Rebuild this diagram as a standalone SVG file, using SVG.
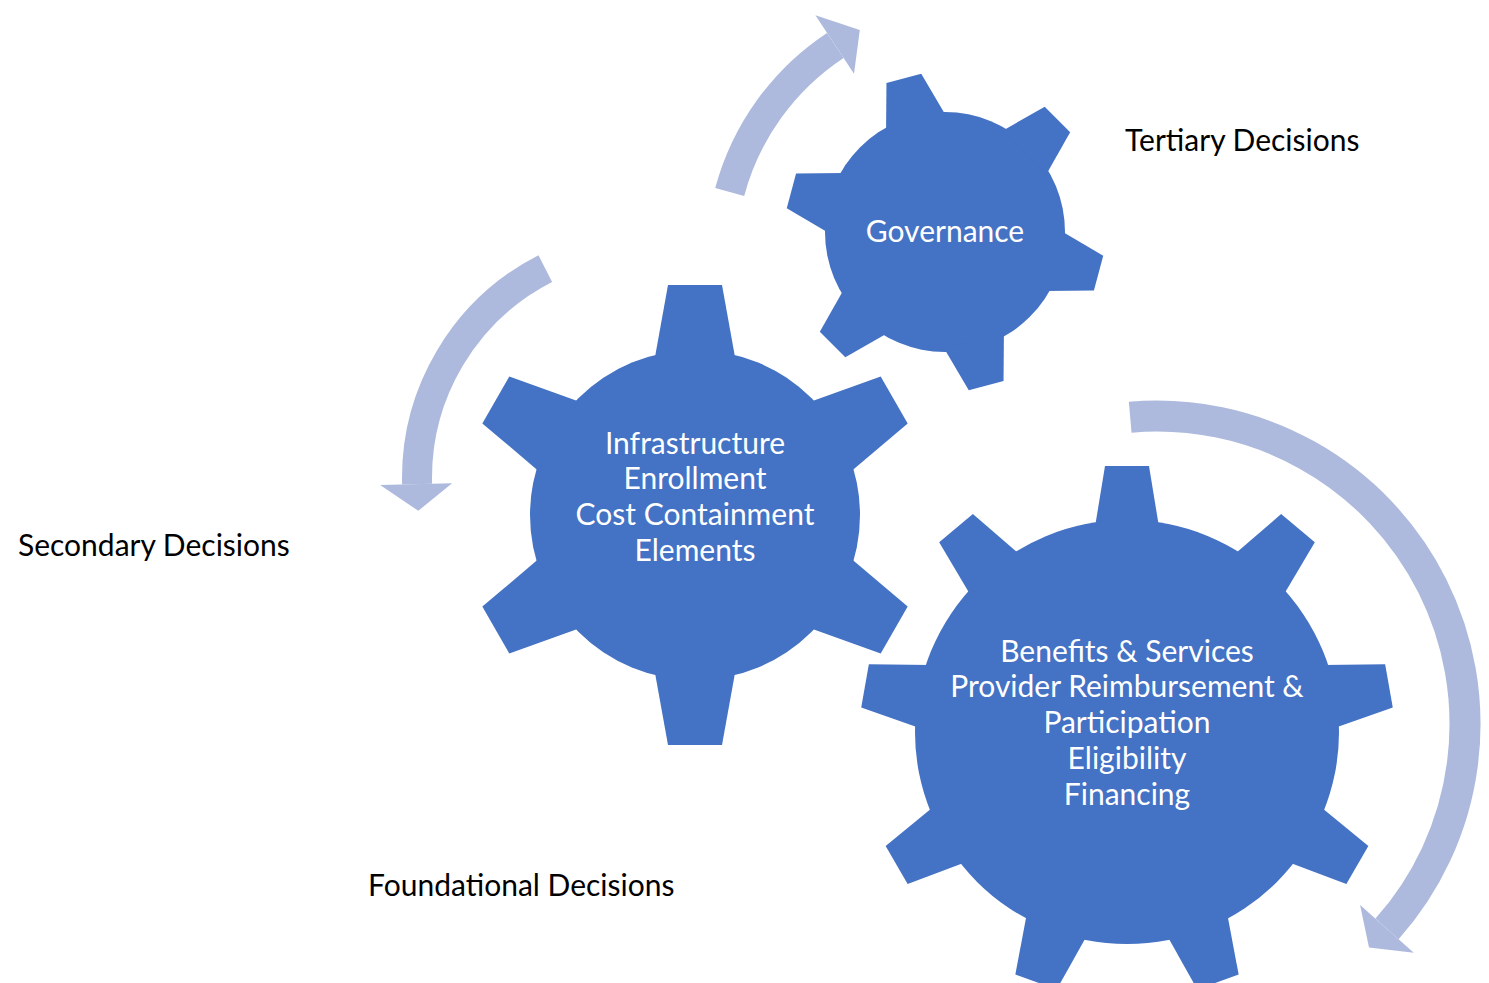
<svg xmlns="http://www.w3.org/2000/svg" xmlns:xlink="http://www.w3.org/1999/xlink" width="1489" height="983" viewBox="0 0 1489 983">
<style>
.gear{fill:#4472C4}
.arc{fill:none;stroke:#adbadd;stroke-width:30;stroke-linecap:butt}
.head{fill:#adbadd}
.lbl{font-family:Lato,"Liberation Sans",sans-serif;font-size:30px;fill:#000}
.gt{font-family:Lato,"Liberation Sans",sans-serif;font-size:30px;fill:#fff;text-anchor:middle}
</style>
<defs>
<polygon id="toothS" points="-18,-159 18,-159 31,-112 -31,-112"/>
<polygon id="toothM" points="-27,-230 27,-230 40,-158 -40,-158"/>
<polygon id="toothL" points="-22,-266 22,-266 32,-205 -32,-205"/>
</defs>
<rect width="1489" height="983" fill="#fff"/>
<g id="connectors">
<path class="arc" d="M729.7,192 A255,255 0 0 1 835.3,45.4"/>
<polygon class="head" points="854,73.7 815.4,15.3 859.8,29.9"/>
<path class="arc" d="M545.3,268.6 A235,235 0 0 0 417.1,484.2"/>
<polygon class="head" points="452.1,483.2 380.1,485.1 418.3,510.8"/>
<path class="arc" style="stroke-width:31" d="M1130.2,417.2 A308,308 0 0 1 1387,928.9"/>
<polygon class="head" points="1360.1,904.9 1413.8,952.8 1369,947.4"/>
</g>
<g id="gear-tertiary" class="gear">
<circle cx="945" cy="232" r="120"/>
<g transform="translate(945,232)">
<use xlink:href="#toothS" transform="rotate(-15)"/>
<use xlink:href="#toothS" transform="rotate(45)"/>
<use xlink:href="#toothS" transform="rotate(105)"/>
<use xlink:href="#toothS" transform="rotate(165)"/>
<use xlink:href="#toothS" transform="rotate(225)"/>
<use xlink:href="#toothS" transform="rotate(285)"/>
</g>
<text class="gt" x="945" y="242">Governance</text>
</g>
<g id="gear-secondary" class="gear">
<circle cx="695" cy="515" r="165"/>
<g transform="translate(695,515)">
<use xlink:href="#toothM" transform="rotate(0)"/>
<use xlink:href="#toothM" transform="rotate(60)"/>
<use xlink:href="#toothM" transform="rotate(120)"/>
<use xlink:href="#toothM" transform="rotate(180)"/>
<use xlink:href="#toothM" transform="rotate(240)"/>
<use xlink:href="#toothM" transform="rotate(300)"/>
</g>
<text class="gt" x="695" y="454">Infrastructure</text>
<text class="gt" x="695" y="489">Enrollment</text>
<text class="gt" x="695" y="525">Cost Containment</text>
<text class="gt" x="695" y="561">Elements</text>
</g>
<g id="gear-foundational" class="gear">
<circle cx="1127" cy="732" r="212"/>
<g transform="translate(1127,732)">
<use xlink:href="#toothL" transform="rotate(0)"/>
<use xlink:href="#toothL" transform="rotate(40)"/>
<use xlink:href="#toothL" transform="rotate(80)"/>
<use xlink:href="#toothL" transform="rotate(120)"/>
<use xlink:href="#toothL" transform="rotate(160)"/>
<use xlink:href="#toothL" transform="rotate(200)"/>
<use xlink:href="#toothL" transform="rotate(240)"/>
<use xlink:href="#toothL" transform="rotate(280)"/>
<use xlink:href="#toothL" transform="rotate(320)"/>
</g>
<text class="gt" x="1127" y="662">Benefits &amp; Services</text>
<text class="gt" x="1127" y="697">Provider Reimbursement &amp;</text>
<text class="gt" x="1127" y="733">Participation</text>
<text class="gt" x="1127" y="769">Eligibility</text>
<text class="gt" x="1127" y="805">Financing</text>
</g>
<g id="labels">
<text class="lbl" x="1125" y="151">Tertiary Decisions</text>
<text class="lbl" x="18" y="556">Secondary Decisions</text>
<text class="lbl" x="368" y="896">Foundational Decisions</text>
</g>
</svg>
